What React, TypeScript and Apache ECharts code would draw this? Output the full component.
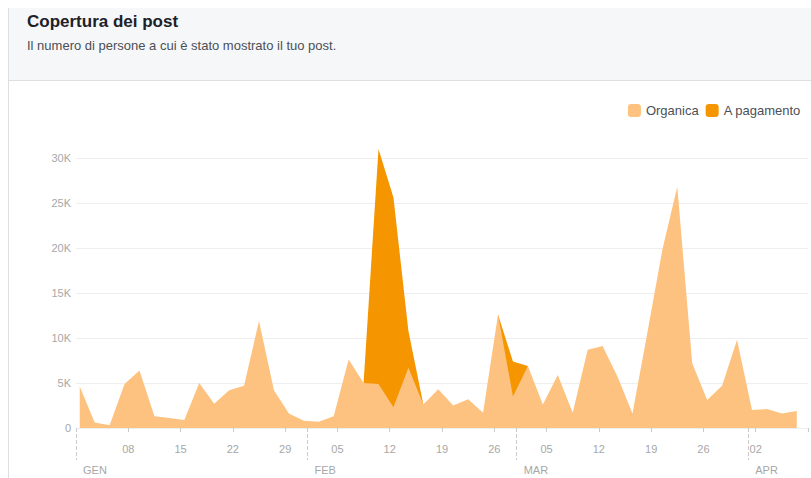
import React, { useEffect, useRef } from "react";
import * as echarts from "echarts";

// Data points (every two days)
const dates = [
  "2018-01-01", "2018-01-03", "2018-01-05", "2018-01-07", "2018-01-09", "2018-01-11", "2018-01-13",
  "2018-01-15", "2018-01-17", "2018-01-19", "2018-01-21", "2018-01-23", "2018-01-25", "2018-01-27",
  "2018-01-29", "2018-01-31", "2018-02-02", "2018-02-04", "2018-02-06", "2018-02-08", "2018-02-10",
  "2018-02-12", "2018-02-14", "2018-02-16", "2018-02-18", "2018-02-20", "2018-02-22", "2018-02-24",
  "2018-02-26", "2018-02-28", "2018-03-02", "2018-03-04", "2018-03-06", "2018-03-08", "2018-03-10",
  "2018-03-12", "2018-03-14", "2018-03-16", "2018-03-18", "2018-03-20", "2018-03-22", "2018-03-24",
  "2018-03-26", "2018-03-28", "2018-03-30", "2018-04-01", "2018-04-03", "2018-04-05", "2018-04-07",
];

const organica = [
  4600, 600, 300, 4900, 6400, 1300, 1100,
  900, 5000, 2700, 4200, 4700, 11900, 4200,
  1600, 800, 700, 1300, 7600, 5000, 4900,
  2300, 6700, 2600, 4300, 2500, 3200, 1700,
  12600, 3500, 6900, 2600, 5900, 1700, 8700,
  9100, 5700, 1600, 10600, 19800, 26800, 7200,
  3100, 4700, 9800, 2000, 2100, 1600, 1900,
];

const pagamento = [
  0, 0, 0, 0, 0, 0, 0,
  0, 0, 0, 0, 0, 0, 0,
  0, 0, 0, 0, 0, 0, 26100,
  23300, 4100, 0, 0, 0, 0, 0,
  0, 3900, 0, 0, 0, 0, 0,
  0, 0, 0, 0, 0, 0, 0,
  0, 0, 0, 0, 0, 0, 0,
];

// Weekly ticks (Mondays) and labelled ones
const weekTicks = [
  "2018-01-08", "2018-01-15", "2018-01-22", "2018-01-29", "2018-02-05", "2018-02-12", "2018-02-19",
  "2018-02-26", "2018-03-05", "2018-03-12", "2018-03-19", "2018-03-26", "2018-04-02", "2018-04-09",
];
const weekLabels = [
  "2018-01-08", "2018-01-15", "2018-01-22", "2018-01-29", "2018-02-05", "2018-02-12", "2018-02-19",
  "2018-02-26", "2018-03-05", "2018-03-12", "2018-03-19", "2018-03-26", "2018-04-02",
];
const monthStarts = ["2018-01-01", "2018-02-01", "2018-03-01", "2018-04-01"];
const monthNames = ["GEN", "FEB", "MAR", "APR"];

const axisStart = "2018-01-01";
const axisEnd = "2018-04-09";

const FONT = "'Liberation Sans', Arial, Helvetica, sans-serif";
const LIGHT = "#fdc27f";
const DARK = "#f59600";

const DAY = 86400000;
const base = Date.parse(axisStart + "T00:00:00Z");
const dayOf = (s: string) => (Date.parse(s + "T00:00:00Z") - base) / DAY;
const NOON = 0.5;

export default function App() {
  const ref = useRef<HTMLDivElement>(null);

  useEffect(() => {
    if (!ref.current) return;
    const chart = echarts.init(ref.current, undefined, { renderer: "svg" });

    const xMin = dayOf(axisStart);
    const xMax = dayOf(axisEnd);
    const weekTickVals = weekTicks.map(dayOf);
    const weekLabelVals = weekLabels.map(dayOf);
    const monthVals = monthStarts.map(dayOf);

    const dayLabel = (v: number) => {
      const d = new Date(base + Math.round(v) * DAY);
      const n = d.getUTCDate();
      return n < 10 ? "0" + n : String(n);
    };
    const monthLabel = (v: number) => {
      const i = monthVals.findIndex((m) => Math.abs(m - v) < 0.01);
      return i >= 0 ? "{m|" + monthNames[i] + "}" : "";
    };

    // Paid reach drawn on top of the organic reach (stacked by hand);
    // only kept where it (or a neighbour) is non-zero.
    const paidStacked = dates.map((d, i) => {
      const near =
        pagamento[i] > 0 || (i > 0 && pagamento[i - 1] > 0) || (i < pagamento.length - 1 && pagamento[i + 1] > 0);
      return [dayOf(d) + NOON, near ? organica[i] + pagamento[i] : null];
    });

    chart.setOption({
      animation: false,
      textStyle: { fontFamily: FONT },
      graphic: [
        {
          type: "rect",
          z: -10,
          shape: { x: 9, y: 8, width: 802, height: 72 },
          style: { fill: "#f6f7f9" },
          silent: true,
        },
        {
          type: "line",
          z: -9,
          shape: { x1: 8, y1: 80.5, x2: 811, y2: 80.5 },
          style: { stroke: "#dddfe2", lineWidth: 1 },
          silent: true,
        },
        {
          type: "line",
          z: -9,
          shape: { x1: 8.5, y1: 8, x2: 8.5, y2: 478 },
          style: { stroke: "#dddfe2", lineWidth: 1 },
          silent: true,
        },
      ],
      title: [
        {
          text: "Copertura dei post",
          left: 27,
          top: 13,
          padding: 0,
          textStyle: { fontFamily: FONT, fontSize: 17, fontWeight: "bold", color: "#1d2129" },
        },
        {
          text: "Il numero di persone a cui è stato mostrato il tuo post.",
          left: 27,
          top: 39,
          padding: 0,
          textStyle: { fontFamily: FONT, fontSize: 13, fontWeight: "normal", color: "#4b4f56" },
        },
      ],
      legend: {
        right: 10,
        top: 104,
        padding: 0,
        itemWidth: 13,
        itemHeight: 13,
        itemGap: 7,
        icon: "roundRect",
        data: ["Organica", "A pagamento"],
        textStyle: { fontFamily: FONT, fontSize: 13, color: "#4b4f56" },
      },
      grid: { left: 76, right: 3, top: 158, bottom: 50 },
      xAxis: [
        {
          type: "value",
          min: xMin,
          max: xMax,
          axisLine: { show: false },
          splitLine: { show: false },
          axisTick: {
            show: true,
            customValues: weekTickVals,
            length: 4,
            lineStyle: { color: "#cccccc" },
          },
          axisLabel: {
            customValues: weekLabelVals,
            formatter: dayLabel,
            margin: 15,
            color: "#a7a7a7",
            fontSize: 11,
            fontFamily: FONT,
          },
        },
        {
          type: "value",
          min: xMin,
          max: xMax,
          position: "bottom",
          axisLine: { show: false },
          splitLine: { show: false },
          axisTick: {
            show: true,
            customValues: monthVals,
            length: 32,
            lineStyle: { color: "#cccccc", type: "dashed" },
          },
          axisLabel: {
            customValues: monthVals,
            formatter: monthLabel,
            align: "left",
            margin: 36,
            rich: {
              m: { padding: [0, 0, 0, 7], color: "#a7a7a7", fontSize: 11, fontFamily: FONT },
            },
          },
        },
      ],
      yAxis: {
        type: "value",
        min: 0,
        max: 30000,
        interval: 5000,
        axisLine: { show: false },
        axisTick: { show: false },
        splitLine: { lineStyle: { color: "#eeeeee" } },
        axisLabel: {
          margin: 5,
          color: "#a7a7a7",
          fontSize: 11,
          fontFamily: FONT,
          formatter: (v: number) => (v === 0 ? "0" : v / 1000 + "K"),
        },
      },
      series: [
        {
          name: "A pagamento",
          type: "line",
          z: 2,
          clip: false,
          symbol: "none",
          connectNulls: false,
          color: DARK,
          lineStyle: { width: 0 },
          areaStyle: { color: DARK, opacity: 1 },
          data: paidStacked,
        },
        {
          name: "Organica",
          type: "line",
          z: 3,
          clip: false,
          symbol: "none",
          color: LIGHT,
          lineStyle: { width: 0 },
          areaStyle: { color: LIGHT, opacity: 1 },
          data: dates.map((d, i) => [dayOf(d) + NOON, organica[i]]),
        },
      ],
    });

    return () => chart.dispose();
  }, []);

  return (
    <div
      ref={ref}
      style={{ position: "fixed", left: 0, top: 0, width: 811, height: 478, background: "#ffffff" }}
    />
  );
}
